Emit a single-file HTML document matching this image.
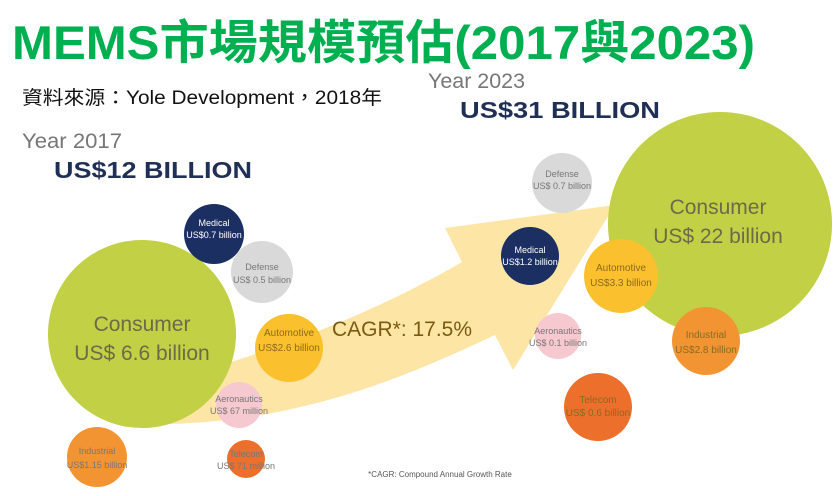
<!DOCTYPE html>
<html><head><meta charset="utf-8"><style>
body{margin:0;width:838px;height:496px;background:#fff;overflow:hidden}
svg{display:block}
</style></head><body>
<svg width="838" height="496" viewBox="0 0 838 496" xmlns="http://www.w3.org/2000/svg">
<text x="12" y="59" font-family="Liberation Sans, Noto Sans CJK TC, sans-serif" font-size="47" font-weight="bold" fill="#00b050" textLength="743" lengthAdjust="spacingAndGlyphs">MEMS市場規模預估(2017與2023)</text>
<text x="22" y="104" font-family="Liberation Sans, Noto Sans CJK TC, sans-serif" font-size="19" fill="#111" textLength="360" lengthAdjust="spacingAndGlyphs">資料來源：Yole Development，2018年</text>
<text x="428" y="88" font-family="Liberation Sans, sans-serif" font-size="21" fill="#777" textLength="97" lengthAdjust="spacingAndGlyphs">Year 2023</text>
<text x="460" y="118" font-family="Liberation Sans, sans-serif" font-size="23" font-weight="bold" fill="#1f2f55" textLength="200" lengthAdjust="spacingAndGlyphs">US$31 BILLION</text>
<text x="22" y="148" font-family="Liberation Sans, sans-serif" font-size="21" fill="#777" textLength="100" lengthAdjust="spacingAndGlyphs">Year 2017</text>
<text x="54" y="178" font-family="Liberation Sans, sans-serif" font-size="23" font-weight="bold" fill="#1f2f55" textLength="198" lengthAdjust="spacingAndGlyphs">US$12 BILLION</text>
<!-- arrow -->
<path d="M170,424 C300,420 400,380 495,335 L513,370 L615,205 L445,228 L462,262 C380,310 280,350 170,380 Z" fill="#fde29c" opacity="0.9"/>
<!-- 2017 -->
<circle cx="142" cy="334" r="94" fill="#c1d045"/>
<circle cx="214" cy="234" r="30" fill="#1c2f63"/>
<circle cx="262" cy="272" r="31" fill="#d9d9d9"/>
<circle cx="289" cy="348" r="34" fill="#fbc02d"/>
<circle cx="239" cy="405" r="23" fill="#f6c8cf"/>
<circle cx="97" cy="457" r="30" fill="#f39433"/>
<circle cx="246" cy="459" r="19" fill="#ec6f2c"/>
<!-- 2023 -->
<circle cx="720" cy="224" r="112" fill="#c1d045"/>
<circle cx="562" cy="183" r="30" fill="#d9d9d9"/>
<circle cx="530" cy="256" r="29" fill="#1c2f63"/>
<circle cx="621" cy="276" r="37" fill="#fbc02d"/>
<circle cx="558" cy="336" r="23" fill="#f6c8cf"/>
<circle cx="706" cy="341" r="34" fill="#f39433"/>
<circle cx="598" cy="407" r="34" fill="#ec6f2c"/>
<g font-family="Liberation Sans, sans-serif" text-anchor="middle">
<g fill="#6b6b4a" font-size="21"><text x="142" y="331">Consumer</text><text x="142" y="360">US$ 6.6 billion</text>
<text x="718" y="214">Consumer</text><text x="718" y="243">US$ 22 billion</text></g>
<text x="402" y="336" font-size="21" fill="#7a5a10">CAGR*: 17.5%</text>
<g font-size="9" fill="#fff"><text x="214" y="226">Medical</text><text x="214" y="238">US$0.7 billion</text>
<text x="530" y="253">Medical</text><text x="530" y="265">US$1.2 billion</text></g>
<g font-size="9" fill="#777"><text x="262" y="270">Defense</text><text x="262" y="283">US$ 0.5 billion</text>
<text x="562" y="177">Defense</text><text x="562" y="189">US$ 0.7 billion</text>
<text x="239" y="402">Aeronautics</text><text x="239" y="414">US$ 67 million</text>
<text x="558" y="334">Aeronautics</text><text x="558" y="346">US$ 0.1 billion</text>
<text x="97" y="454">Industrial</text><text x="97" y="468">US$1.15 billion</text>
<text x="246" y="457">Telecom</text><text x="246" y="469">US$ 71 million</text></g>
<g font-size="10" fill="#8a6a20"><text x="289" y="336">Automotive</text><text x="289" y="351">US$2.6 billion</text>
<text x="621" y="271">Automotive</text><text x="621" y="286">US$3.3 billion</text>
<text x="706" y="338">Industrial</text><text x="706" y="353">US$2.8 billion</text>
<text x="598" y="403">Telecom</text><text x="598" y="416">US$ 0.6 billion</text></g>
<text x="440" y="477" font-size="8" fill="#555">*CAGR: Compound Annual Growth Rate</text>
</g>
</svg>
</body></html>
